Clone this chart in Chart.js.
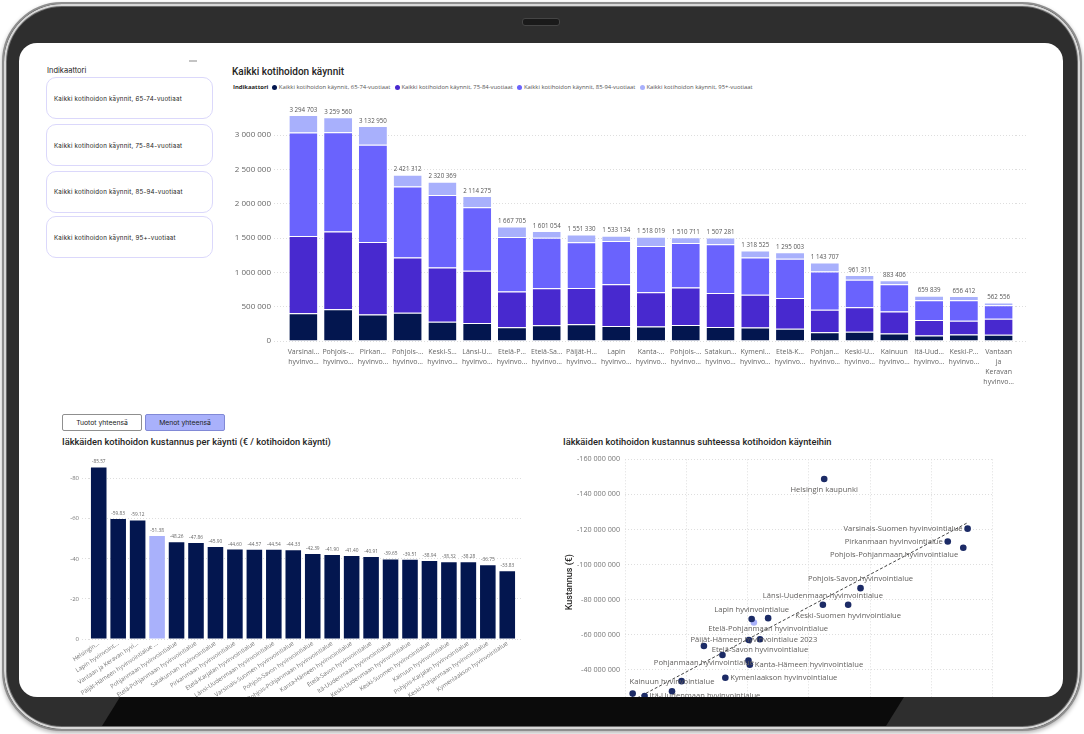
<!DOCTYPE html>
<html lang="fi">
<head>
<meta charset="utf-8">
<title>Kotihoidon käynnit</title>
<script src="https://cdn.jsdelivr.net/npm/chart.js@4.4.1/dist/chart.umd.min.js"></script>
<style>
  body { margin: 0; width: 1084px; height: 734px; overflow: hidden; position: relative; background: #fff; font-family: 'Open Sans', sans-serif; }
  .device { position: absolute; left: 2px; top: 2px; width: 1080px; height: 729px; box-sizing: border-box; border-radius: 60px; background: #2e2e2e; border: 2px solid #8e8e8e; box-shadow: inset 0 0 0 2px #d8d8d8, inset 0 0 0 3px #6a6a6a, 0 2px 4px rgba(0,0,0,.3); }
  .camera { position: absolute; left: 522px; top: 18px; width: 36px; height: 6px; border-radius: 3px; background: #1a1a1a; border: 1px solid #454545; }
  .band { position: absolute; left: 100px; top: 697px; width: 804px; height: 29px; background: #0b0b0b; clip-path: polygon(20px 0, 804px 0, 786px 29px, 2px 29px); }
  .screen { position: absolute; left: 19px; top: 43px; width: 1044px; height: 654px; border-radius: 18px; background: #fff; overflow: hidden; }
  .handle { position: absolute; left: 170px; top: 17px; width: 8px; height: 1.5px; background: #c4c4c4; }
  .slicer-title { position: absolute; left: 28px; top: 23px; font: 7.5px/10px Inter, sans-serif; color: #252423; }
  .slot { position: absolute; left: 27px; width: 167px; height: 42px; box-sizing: border-box; border: 1px solid #dbd8fb; border-radius: 10px; font: 6.2px Inter, sans-serif; color: #252423; display: flex; align-items: center; padding-left: 7px; letter-spacing: 0.2px; }
  .title { position: absolute; font-family: Roboto, sans-serif; font-weight: 500; color: #252423; white-space: nowrap; }
  .legend { position: absolute; left: 214px; top: 40px; height: 8px; display: flex; align-items: center; font-size: 5.9px; color: #555; white-space: nowrap; }
  .legend b { color: #252423; margin-right: 4px; }
  .legend .dot { width: 5px; height: 5px; border-radius: 50%; margin-right: 1.5px; }
  .legend .item { display: flex; align-items: center; margin-right: 4.5px; }
  .box { position: absolute; }
  .btn { position: absolute; top: 371px; width: 80px; height: 17px; box-sizing: border-box; border: 1px solid #8f8f8f; border-radius: 2px; font: 6.8px Inter, sans-serif; color: #222; display: flex; align-items: center; justify-content: center; background: #fff; }
  .btn.on { background: #a9b1fb; border-color: #8189d6; }
</style>
</head>
<body>
<div class="device"></div>
<div class="camera"></div>
<div class="band"></div>
<div class="screen">
  <div class="handle"></div>
  <div class="slicer-title">Indikaattori</div>
  <div id="slicer"></div>

  <div class="title" style="left:213px;top:22px;font-size:10px;line-height:14px">Kaikki kotihoidon käynnit</div>
  <div class="legend" id="legend"><b>Indikaattori</b></div>
  <div class="box" style="left:209px;top:50px;width:799px;height:298px"><canvas id="chartTop"></canvas></div>

  <div class="btn" style="left:43px">Tuotot yhteensä</div>
  <div class="btn on" style="left:126px">Menot yhteensä</div>
  <div class="title" style="left:43px;top:393px;font-size:9.3px;line-height:12px">Iäkkäiden kotihoidon kustannus per käynti (€ / kotihoidon käynti)</div>
  <div class="box" style="left:41px;top:409px;width:463px;height:267px"><canvas id="chartCost"></canvas></div>

  <div class="title" style="left:544px;top:393px;font-size:9.3px;line-height:12px">Iäkkäiden kotihoidon kustannus suhteessa kotihoidon käynteihin</div>
  <div class="box" style="left:541px;top:407px;width:452px;height:285px"><canvas id="chartScatter"></canvas></div>
</div>

<script>
// --- data: käynnit per ikäryhmä ---
const seriesNames = [
  "Kaikki kotihoidon käynnit, 65-74-vuotiaat",
  "Kaikki kotihoidon käynnit, 75-84-vuotiaat",
  "Kaikki kotihoidon käynnit, 85-94-vuotiaat",
  "Kaikki kotihoidon käynnit, 95+-vuotiaat"
];
const regionLabels = [
  ["Varsinai…", "hyvinvo…"], ["Pohjois-…", "hyvinvo…"], ["Pirkan…", "hyvinvo…"], ["Pohjois-…", "hyvinvo…"],
  ["Keski-S…", "hyvinvo…"], ["Länsi-U…", "hyvinvo…"], ["Etelä-P…", "hyvinvo…"], ["Etelä-Sa…", "hyvinvo…"],
  ["Päijät-H…", "hyvinvo…"], ["Lapin", "hyvinvo…"], ["Kanta-…", "hyvinvo…"], ["Pohjois-…", "hyvinvo…"],
  ["Satakun…", "hyvinvo…"], ["Kymenl…", "hyvinvo…"], ["Etelä-K…", "hyvinvo…"], ["Pohjan…", "hyvinvo…"],
  ["Keski-U…", "hyvinvo…"], ["Kainuun", "hyvinvo…"], ["Itä-Uud…", "hyvinvo…"], ["Keski-P…", "hyvinvo…"],
  ["Vantaan", "ja", "Keravan", "hyvinvo…"]
];
const visits6574 = [406000, 463000, 387000, 411000, 282000, 263000, 201000, 229000, 244000, 220000, 210000, 234000, 205000, 196000, 177000, 129000, 134000, 110000, 81000, 96000, 91000];
const visits7584 = [1123000, 1133000, 1056000, 807000, 788000, 759000, 520000, 540000, 530000, 606000, 502000, 545000, 493000, 478000, 449000, 325000, 358000, 320000, 225000, 200000, 234000];
const visits8594 = [1509000, 1447000, 1418000, 1032000, 1056000, 927000, 793000, 736000, 664000, 631000, 674000, 650000, 712000, 544000, 573000, 559000, 401000, 397000, 286000, 296000, 196000];
const visits95 = [256703, 216560, 271950, 171312, 194369, 165275, 153705, 96054, 113330, 76134, 132019, 81711, 97281, 100525, 96003, 130707, 68311, 56406, 67839, 64412, 41556];

// --- data: kustannus per käynti ---
const costLabels = [
  "Helsingin…", "Lapin hyvinvoint…", "Vantaan ja Keravan hyvi…", "Päijät-Hämeen hyvinvointialue …",
  "Pohjanmaan hyvinvointialue", "Etelä-Pohjanmaan hyvinvointialue", "Satakunnan hyvinvointialue",
  "Pirkanmaan hyvinvointialue", "Etelä-Karjalan hyvinvointialue", "Länsi-Uudenmaan hyvinvointialue",
  "Varsinais-Suomen hyvinvointialue", "Pohjois-Savon hyvinvointialue", "Pohjois-Pohjanmaan hyvinvointialue",
  "Kanta-Hämeen hyvinvointialue", "Etelä-Savon hyvinvointialue", "Itä-Uudenmaan hyvinvointialue",
  "Keski-Uudenmaan hyvinvointialue", "Keski-Suomen hyvinvointialue", "Kainuun hyvinvointialue",
  "Pohjois-Karjalan hyvinvointialue", "Keski-Pohjanmaan hyvinvointialue", "Kymenlaakson hyvinvointialue"
];
const costValues = [-85.57, -59.83, -59.12, -51.38, -48.26, -47.86, -45.90, -44.60, -44.57, -44.54, -44.33, -42.39, -41.90, -41.40, -40.91, -39.65, -39.51, -38.94, -38.32, -38.28, -36.75, -33.83];

// --- data: kustannus vs käynnit ---
const scatterNames = [
  "Helsingin kaupunki", "Varsinais-Suomen hyvinvointialue", "Pohjois-Pohjanmaan hyvinvointialue",
  "Pirkanmaan hyvinvointialue", "Pohjois-Savon hyvinvointialue", "Keski-Suomen hyvinvointialue",
  "Länsi-Uudenmaan hyvinvointialue", "Etelä-Pohjanmaan hyvinvointialue", "Etelä-Savon hyvinvointialue",
  "Päijät-Hämeen hyvinvointialue 2023", "Lapin hyvinvointialue", "Kanta-Hämeen hyvinvointialue",
  "Pohjois-Karjalan hyvinvointialue", "Satakunnan hyvinvointialue", "Kymenlaakson hyvinvointialue",
  "Etelä-Karjalan hyvinvointialue", "Pohjanmaan hyvinvointialue", "Keski-Uudenmaan hyvinvointialue",
  "Kainuun hyvinvointialue", "Itä-Uudenmaan hyvinvointialue", "Keski-Pohjanmaan hyvinvointialue",
  "Vantaan ja Keravan hyvinvointialue"
];
const scatterVisits = [2125000, 3294703, 3259560, 3132950, 2421312, 2320369, 2114275, 1667705, 1601054, 1551330, 1533134, 1518019, 1510711, 1507281, 1318525, 1295003, 1143707, 961311, 883406, 659839, 656412, 562556];
const scatterCost = [-148.8e6, -120.5e6, -109.6e6, -113.2e6, -86.6e6, -77.1e6, -77.1e6, -69.5e6, -57.5e6, -67.0e6, -69.0e6, -42.9e6, -57.0e6, -45.4e6, -35.5e6, -48.5e6, -53.6e6, -33.6e6, -27.8e6, -25.1e6, -20.5e6, -26.5e6];
// where Power BI put each data label (a = above, b = below, l = left, r = right, '' = hidden)
const labelPlace = ["b", "l", "lb", "l", "a", "b", "a", "b", "b", "b2", "a", "r", "", "", "r", "", "b2", "", "a", "r", "", ""];

const seriesColors = ["#03164f", "#4829cf", "#6a63fd", "#a8b0fc"];
const navy = "#03164f";
const lavender = "#a9b1fb";
const highlight = "Päijät-Hämeen hyvinvointialue 2023";

Chart.defaults.font.family = "'Open Sans', sans-serif";
Chart.defaults.animation = false;
Chart.defaults.devicePixelRatio = 1;

function fmt(n) {
  return Math.round(n).toString().replace(/\B(?=(\d{3})+(?!\d))/g, " ");
}

// slicer + legend
const slicer = document.getElementById(`slicer`);
const legend = document.getElementById(`legend`);
const slotTops = [34, 81, 127.5, 173];
seriesNames.forEach((name, i) => {
  const s = document.createElement(`div`);
  s.className = `slot`;
  s.style.top = slotTops[i] + `px`;
  s.textContent = name;
  slicer.appendChild(s);
  const item = document.createElement(`div`);
  item.className = `item`;
  item.innerHTML = `<span class="dot" style="background:${seriesColors[i]}"></span>${name}`;
  legend.appendChild(item);
});

const gridStyle = { color: `#dedede`, drawTicks: false };
const keepUpTo = (limit, step) => (s) => { s.ticks = s.ticks.filter(t => t.value <= limit && Math.abs(t.value % step) < 1e-6); };

// --- ylin kaavio ---
const totalLabels = {
  id: `totalLabels`,
  afterDatasetsDraw(chart) {
    const ctx = chart.ctx;
    const last = chart.getDatasetMeta(chart.data.datasets.length - 1);
    ctx.save();
    ctx.font = `6.2px 'Open Sans'`;
    ctx.fillStyle = `#555`;
    ctx.textAlign = `center`;
    ctx.textBaseline = `bottom`;
    last.data.forEach((bar, i) => {
      const total = chart.data.datasets.reduce((s, d) => s + d.data[i], 0);
      ctx.fillText(fmt(total), bar.x, bar.y - 2);
    });
    ctx.restore();
  }
};

new Chart(document.getElementById(`chartTop`), {
  type: `bar`,
  data: {
    labels: regionLabels,
    datasets: [visits6574, visits7584, visits8594, visits95].map((data, i) => ({
      label: seriesNames[i],
      data,
      backgroundColor: seriesColors[i],
      borderColor: `#ffffff`,
      borderWidth: { top: 1, left: 0, right: 0, bottom: 0 },
      barPercentage: 0.805,
      categoryPercentage: 1
    }))
  },
  options: {
    responsive: true,
    maintainAspectRatio: false,
    layout: { padding: { top: 2 } },
    plugins: { legend: { display: false }, tooltip: { enabled: false } },
    scales: {
      x: {
        stacked: true,
        grid: { display: false, drawTicks: false },
        border: { display: false },
        ticks: { autoSkip: false, maxRotation: 0, padding: 6, color: `#666`, font: { size: 7, lineHeight: 1.43 } },
        afterFit: (s) => { s.height = 50; }
      },
      y: {
        stacked: true,
        min: 0,
        max: 3500000,
        grid: { color: `#dedede`, drawTicks: true, tickLength: 12, tickColor: `#dedede`, tickBorderDash: [1, 2] },
        border: { display: false, dash: [1, 2] },
        ticks: { stepSize: 500000, padding: 3, color: `#666`, font: { size: 8 }, callback: (v) => fmt(v) },
        afterBuildTicks: keepUpTo(3000000, 500000),
        afterFit: (s) => { s.width = 58; }
      },
      y2: {
        position: `right`,
        min: 0,
        max: 3500000,
        grid: { drawOnChartArea: false, drawTicks: true, tickLength: 11, tickColor: `#dedede`, tickBorderDash: [1, 2] },
        border: { display: false },
        ticks: { display: false, stepSize: 500000 },
        afterBuildTicks: keepUpTo(3000000, 500000),
        afterFit: (s) => { s.width = 11; }
      }
    }
  },
  plugins: [totalLabels]
});

// --- kustannus per käynti ---
const valueLabels = {
  id: `valueLabels`,
  afterDatasetsDraw(chart) {
    const ctx = chart.ctx;
    const meta = chart.getDatasetMeta(0);
    ctx.save();
    ctx.font = `4.8px 'Open Sans'`;
    ctx.fillStyle = `#666`;
    ctx.textAlign = `center`;
    ctx.textBaseline = `bottom`;
    meta.data.forEach((bar, i) => {
      ctx.fillText(costValues[i].toFixed(2), bar.x, bar.y - 3);
    });
    ctx.restore();
  }
};

new Chart(document.getElementById(`chartCost`), {
  type: `bar`,
  data: {
    labels: costLabels,
    datasets: [{
      data: costValues,
      backgroundColor: costLabels.map(l => l.startsWith(`Päijät`) ? lavender : navy),
      barPercentage: 0.8,
      categoryPercentage: 1
    }]
  },
  options: {
    responsive: true,
    maintainAspectRatio: false,
    layout: { padding: { top: 3.6 } },
    plugins: { legend: { display: false }, tooltip: { enabled: false } },
    scales: {
      x: {
        grid: { display: false, drawTicks: false },
        border: { display: false },
        ticks: { autoSkip: false, minRotation: 34, maxRotation: 34, padding: 1, color: `#777`, font: { size: 6 } },
        afterFit: (s) => { s.height = 80; }
      },
      y: {
        reverse: true,
        min: -90,
        max: 0,
        grid: { color: `#dedede`, drawTicks: true, tickLength: 7, tickColor: `#dedede`, tickBorderDash: [1, 2] },
        border: { display: false, dash: [1, 2] },
        ticks: { stepSize: 20, padding: 3, color: `#777`, font: { size: 6 } },
        afterBuildTicks: keepUpTo(0, 20),
        afterFit: (s) => { s.width = 29; }
      },
      y2: {
        position: `right`,
        reverse: true,
        min: -90,
        max: 0,
        grid: { drawOnChartArea: false, drawTicks: true, tickLength: 6, tickColor: `#dedede`, tickBorderDash: [1, 2] },
        border: { display: false },
        ticks: { display: false, stepSize: 20 },
        afterBuildTicks: keepUpTo(0, 20),
        afterFit: (s) => { s.width = 6; }
      }
    }
  },
  plugins: [valueLabels]
});

// --- kustannus vs käynnit ---
const points = scatterVisits.map((x, i) => ({ x, y: scatterCost[i] }));
const n = points.length;
const mx = scatterVisits.reduce((a, b) => a + b, 0) / n;
const my = scatterCost.reduce((a, b) => a + b, 0) / n;
let sxy = 0, sxx = 0;
points.forEach(p => { sxy += (p.x - mx) * (p.y - my); sxx += (p.x - mx) * (p.x - mx); });
const slope = sxy / sxx;
const xMin = Math.min(...scatterVisits);
const xMax = Math.max(...scatterVisits);
const trend = [xMin, xMax].map(x => ({ x, y: my + slope * (x - mx) }));

const pointLabels = {
  id: `pointLabels`,
  afterDatasetsDraw(chart) {
    const ctx = chart.ctx;
    const meta = chart.getDatasetMeta(0);
    ctx.save();
    ctx.font = `7.6px 'Open Sans'`;
    ctx.fillStyle = `#605e5c`;
    ctx.textBaseline = `middle`;
    meta.data.forEach((pt, i) => {
      const place = labelPlace[i];
      if (!place) return;
      let x = pt.x, y = pt.y, align = `center`;
      if (place === `a`) y -= 9;
      else if (place === `b`) y += 11;
      else if (place === `b2`) y += 17;
      else if (place === `l`) { x -= 5; align = `right`; }
      else if (place === `lb`) { x -= 5; y += 7; align = `right`; }
      else if (place === `r`) { x += 5; align = `left`; }
      ctx.textAlign = align;
      ctx.fillText(scatterNames[i], x, y);
    });
    ctx.restore();
  }
};

new Chart(document.getElementById(`chartScatter`), {
  type: `scatter`,
  data: {
    datasets: [
      {
        data: points,
        pointRadius: 3.3,
        pointBackgroundColor: scatterNames.map(nm => nm === highlight ? lavender : `#1c2b66`),
        pointBorderWidth: 0
      },
      {
        type: `line`,
        data: trend,
        borderColor: `#444`,
        borderWidth: 1,
        borderDash: [3, 2],
        pointRadius: 0
      }
    ]
  },
  options: {
    responsive: true,
    maintainAspectRatio: false,
    layout: { padding: { top: 5, right: 3 } },
    plugins: { legend: { display: false }, tooltip: { enabled: false } },
    scales: {
      x: {
        type: `linear`,
        min: 500000,
        max: 3500000,
        grid: gridStyle,
        border: { display: false, dash: [1, 2] },
        ticks: { stepSize: 500000, color: `#777`, font: { size: 7.2 }, callback: (v) => fmt(v) },
        afterFit: (s) => { s.height = 30; }
      },
      y: {
        reverse: true,
        min: -160000000,
        max: -20000000,
        grid: gridStyle,
        border: { display: false, dash: [1, 2] },
        ticks: { stepSize: 20000000, padding: 5, color: `#777`, font: { size: 7.2 }, callback: (v) => fmt(v) },
        title: { display: true, text: `Kustannus (€)`, color: `#252423`, font: { size: 9, family: `Roboto`, weight: `500` }, padding: { top: 4, bottom: 0 } },
        afterFit: (s) => { s.width = 65; }
      }
    }
  },
  plugins: [pointLabels]
});
</script>
</body>
</html>
